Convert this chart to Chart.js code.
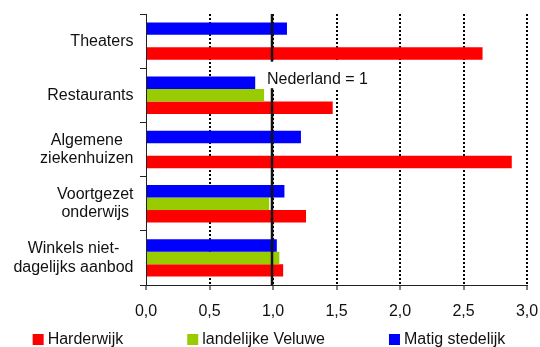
<!DOCTYPE html>
<html>
<head>
<meta charset="utf-8">
<script src="https://cdn.jsdelivr.net/npm/chart.js@4/dist/chart.umd.min.js"></script>
<style>
  html, body { margin: 0; padding: 0; background: #fff; }
  #wrap { width: 540px; height: 347px; }
</style>
</head>
<body>
<div id="wrap"><canvas id="chart" width="540" height="347"></canvas></div>
<script>
// Voorzieningen: index per inwoner, Nederland = 1
const categories = [
  ['Theaters'],
  ['Restaurants'],
  ['Algemene', 'ziekenhuizen'],
  ['Voortgezet', 'onderwijs'],
  ['Winkels niet-', 'dagelijks aanbod']
];
const seriesNames = ['Harderwijk', 'landelijke Veluwe', 'Matig stedelijk'];
const harderwijk = [2.65, 1.47, 2.88, 1.26, 1.08];
const landelijkeVeluwe = [null, 0.93, null, 0.97, 1.05];
const matigStedelijk = [1.11, 0.86, 1.22, 1.09, 1.03];
const xTickLabels = ['0,0', '0,5', '1,0', '1,5', '2,0', '2,5', '3,0'];
const referenceValue = 1;
const referenceLabel = 'Nederland = 1';

const FONT = '"Liberation Sans", Arial, sans-serif';
const TEXT = '#111';

// Category labels: block right-aligned against the axis, lines centred within the block
const categoryLabels = {
  id: 'categoryLabels',
  afterDraw(chart) {
    const y = chart.scales.y;
    const ctx = chart.ctx;
    const lineH = 18.4;
    const rightEdge = y.right - 6 - 6.5;
    ctx.save();
    ctx.font = '16px ' + FONT;
    ctx.fillStyle = TEXT;
    ctx.textAlign = 'center';
    ctx.textBaseline = 'middle';
    categories.forEach((lines, i) => {
      const widest = Math.max(...lines.map(l => ctx.measureText(l).width));
      const cx = rightEdge - widest / 2;
      const cy = y.getPixelForValue(i);
      lines.forEach((l, k) => {
        ctx.fillText(l, cx, cy + (k - (lines.length - 1) / 2) * lineH);
      });
    });
    ctx.restore();
  }
};

// Solid reference line at the national level with its label
const referenceLine = {
  id: 'referenceLine',
  afterDatasetsDraw(chart) {
    const { ctx, chartArea, scales } = chart;
    const x = scales.x.getPixelForValue(referenceValue);
    const y0 = scales.y.getPixelForValue(0);
    const y1 = scales.y.getPixelForValue(1);
    const boundary = (y0 + y1) / 2;
    ctx.save();
    ctx.strokeStyle = '#111';
    ctx.lineWidth = 2.5;
    ctx.beginPath();
    ctx.moveTo(x - 1, chartArea.top);
    ctx.lineTo(x - 1, chartArea.bottom);
    ctx.stroke();
    ctx.font = '16px ' + FONT;
    const w = ctx.measureText(referenceLabel).width;
    const tx = x - 6;
    ctx.fillStyle = '#fff';
    ctx.fillRect(tx - 2, boundary - 6.5, w + 4, 26.5);
    ctx.fillStyle = TEXT;
    ctx.textAlign = 'left';
    ctx.textBaseline = 'alphabetic';
    ctx.fillText(referenceLabel, tx, boundary + 15.6);
    ctx.restore();
  }
};

// Legend along the bottom, in series order
const bottomLegend = {
  id: 'bottomLegend',
  afterDraw(chart) {
    const ctx = chart.ctx;
    const ds = chart.data.datasets.slice().reverse();
    const box = 11, gapText = 4, gapItem = 64;
    ctx.save();
    ctx.font = '16px ' + FONT;
    const widths = ds.map(d => box + gapText + ctx.measureText(d.label).width);
    const total = widths.reduce((a, b) => a + b, 0) + gapItem * (ds.length - 1);
    let x = (chart.width - total) / 2 - 1;
    ds.forEach((d, i) => {
      ctx.fillStyle = d.backgroundColor;
      ctx.fillRect(x, 334, box, box);
      ctx.fillStyle = TEXT;
      ctx.textBaseline = 'alphabetic';
      ctx.textAlign = 'left';
      ctx.fillText(d.label, x + box + gapText, 343.5);
      x += widths[i] + gapItem;
    });
    ctx.restore();
  }
};

new Chart(document.getElementById('chart'), {
  type: 'bar',
  data: {
    labels: categories,
    datasets: [
      { label: seriesNames[2], data: matigStedelijk, backgroundColor: '#0000FF' },
      { label: seriesNames[1], data: landelijkeVeluwe, backgroundColor: '#99CC00' },
      { label: seriesNames[0], data: harderwijk, backgroundColor: '#FF0000' }
    ]
  },
  options: {
    indexAxis: 'y',
    responsive: false,
    animation: false,
    devicePixelRatio: 1,
    layout: { padding: { left: 0, right: 13, top: 14, bottom: 22 } },
    datasets: { bar: { categoryPercentage: 0.69, barPercentage: 1, borderWidth: 0 } },
    plugins: {
      legend: { display: false },
      tooltip: { enabled: false }
    },
    scales: {
      x: {
        min: 0,
        max: 3,
        afterFit(scale) {
          scale.height = 40;
          scale.paddingLeft = 0;
          scale.paddingRight = 0;
        },
        border: { display: true, color: '#222', width: 1, dash: [2, 2] },
        grid: {
          color: c => (c.tick && c.tick.value === 0) ? 'rgba(0,0,0,0)' : '#000',
          lineWidth: 2,
          drawTicks: true,
          tickLength: 5,
          tickColor: '#000',
          tickWidth: 1,
          tickBorderDash: []
        },
        ticks: {
          stepSize: 0.5,
          padding: 12,
          color: TEXT,
          font: { family: FONT, size: 16 },
          callback: (v, i) => xTickLabels[i]
        }
      },
      y: {
        afterFit(scale) { scale.width = 146; },
        border: { display: true, color: '#222', width: 1 },
        grid: {
          drawOnChartArea: false,
          drawTicks: true,
          tickLength: 6,
          color: '#222',
          offset: true
        },
        ticks: { display: false }
      }
    }
  },
  plugins: [categoryLabels, referenceLine, bottomLegend]
});
</script>
</body>
</html>
